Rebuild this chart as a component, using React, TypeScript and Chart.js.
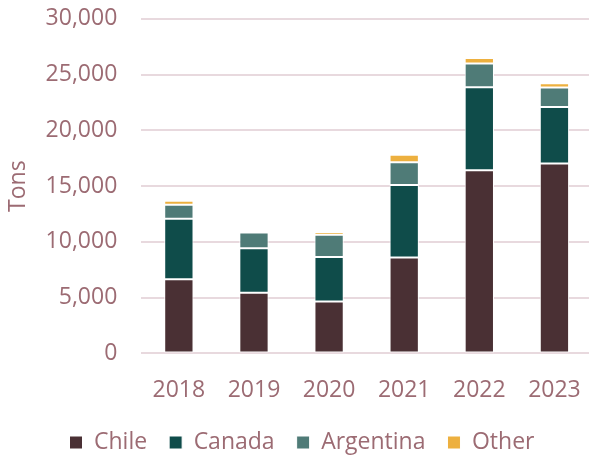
import React, { useEffect, useRef } from "react";
import { Chart, registerables } from "chart.js";

Chart.register(...registerables);

const years = ["2018", "2019", "2020", "2021", "2022", "2023"];
const chile = [6650, 5430, 4660, 8590, 16420, 17030];
const canada = [5420, 4000, 3990, 6510, 7450, 5070];
const argentina = [1260, 1410, 1980, 2040, 2130, 1750];
const other = [360, 150, 250, 660, 490, 380];

const TEXT = "#9C6B73";
const FONT = "'Open Sans', 'Noto Sans', sans-serif";

const legendShift = {
  id: "legendShift",
  afterLayout(chart: any) {
    if (chart.legend) {
      chart.legend.left += 6;
      chart.legend.right += 6;
    }
  },
};

export default function App() {
  const ref = useRef<HTMLCanvasElement | null>(null);
  useEffect(() => {
    document.body.style.margin = "0";
    const ctx = ref.current!;
    const mk = (label: string, data: number[], color: string) => ({
      label,
      data,
      backgroundColor: color,
      borderColor: "#ffffff",
      borderWidth: 1,
      borderSkipped: false as const,
      categoryPercentage: 1,
      barPercentage: 0.39,
    });
    const chart = new Chart(ctx, {
      type: "bar",
      data: {
        labels: years,
        datasets: [
          mk("Chile", chile, "#4A3034"),
          mk("Canada", canada, "#0F4C4A"),
          mk("Argentina", argentina, "#4F7B77"),
          mk("Other", other, "#EDB03F"),
        ],
      },
      plugins: [legendShift],
      options: {
        responsive: false,
        animation: false,
        maintainAspectRatio: false,
        layout: { padding: { top: 0, right: 20, left: 0, bottom: -6 } },
        plugins: {
          tooltip: { enabled: false },
          legend: {
            position: "bottom",
            labels: {
              color: TEXT,
              font: { family: FONT, size: 23 },
              boxWidth: 13,
              boxHeight: 13,
              padding: 22,
            },
          },
        },
        scales: {
          x: {
            stacked: true,
            grid: { display: false, drawTicks: false },
            border: { display: false },
            ticks: {
              color: TEXT,
              font: { family: FONT, size: 23 },
              padding: 23,
            },
            afterFit: (s: any) => {
              s.height -= 18;
            },
          },
          y: {
            stacked: true,
            min: 0,
            max: 30000,
            title: {
              display: true,
              text: "Tons",
              color: TEXT,
              font: { family: FONT, size: 23 },
              padding: { top: 5, bottom: 0 },
            },
            grid: {
              color: "#E8D9DE",
              lineWidth: 2,
              drawTicks: true,
              tickLength: 19,
              tickColor: "rgba(0,0,0,0)",
            },
            border: { display: false },
            ticks: {
              stepSize: 5000,
              color: TEXT,
              font: { family: FONT, size: 23 },
              padding: 5,
              callback: (v: any) => Number(v).toLocaleString("en-US"),
            },
            afterFit: (s: any) => {
              s.width += 8;
            },
          },
        },
      },
    });
    return () => chart.destroy();
  }, []);
  return (
    <div style={{ width: 589, height: 458, overflow: "hidden" }}>
      <canvas ref={ref} width={612} height={458} />
    </div>
  );
}
